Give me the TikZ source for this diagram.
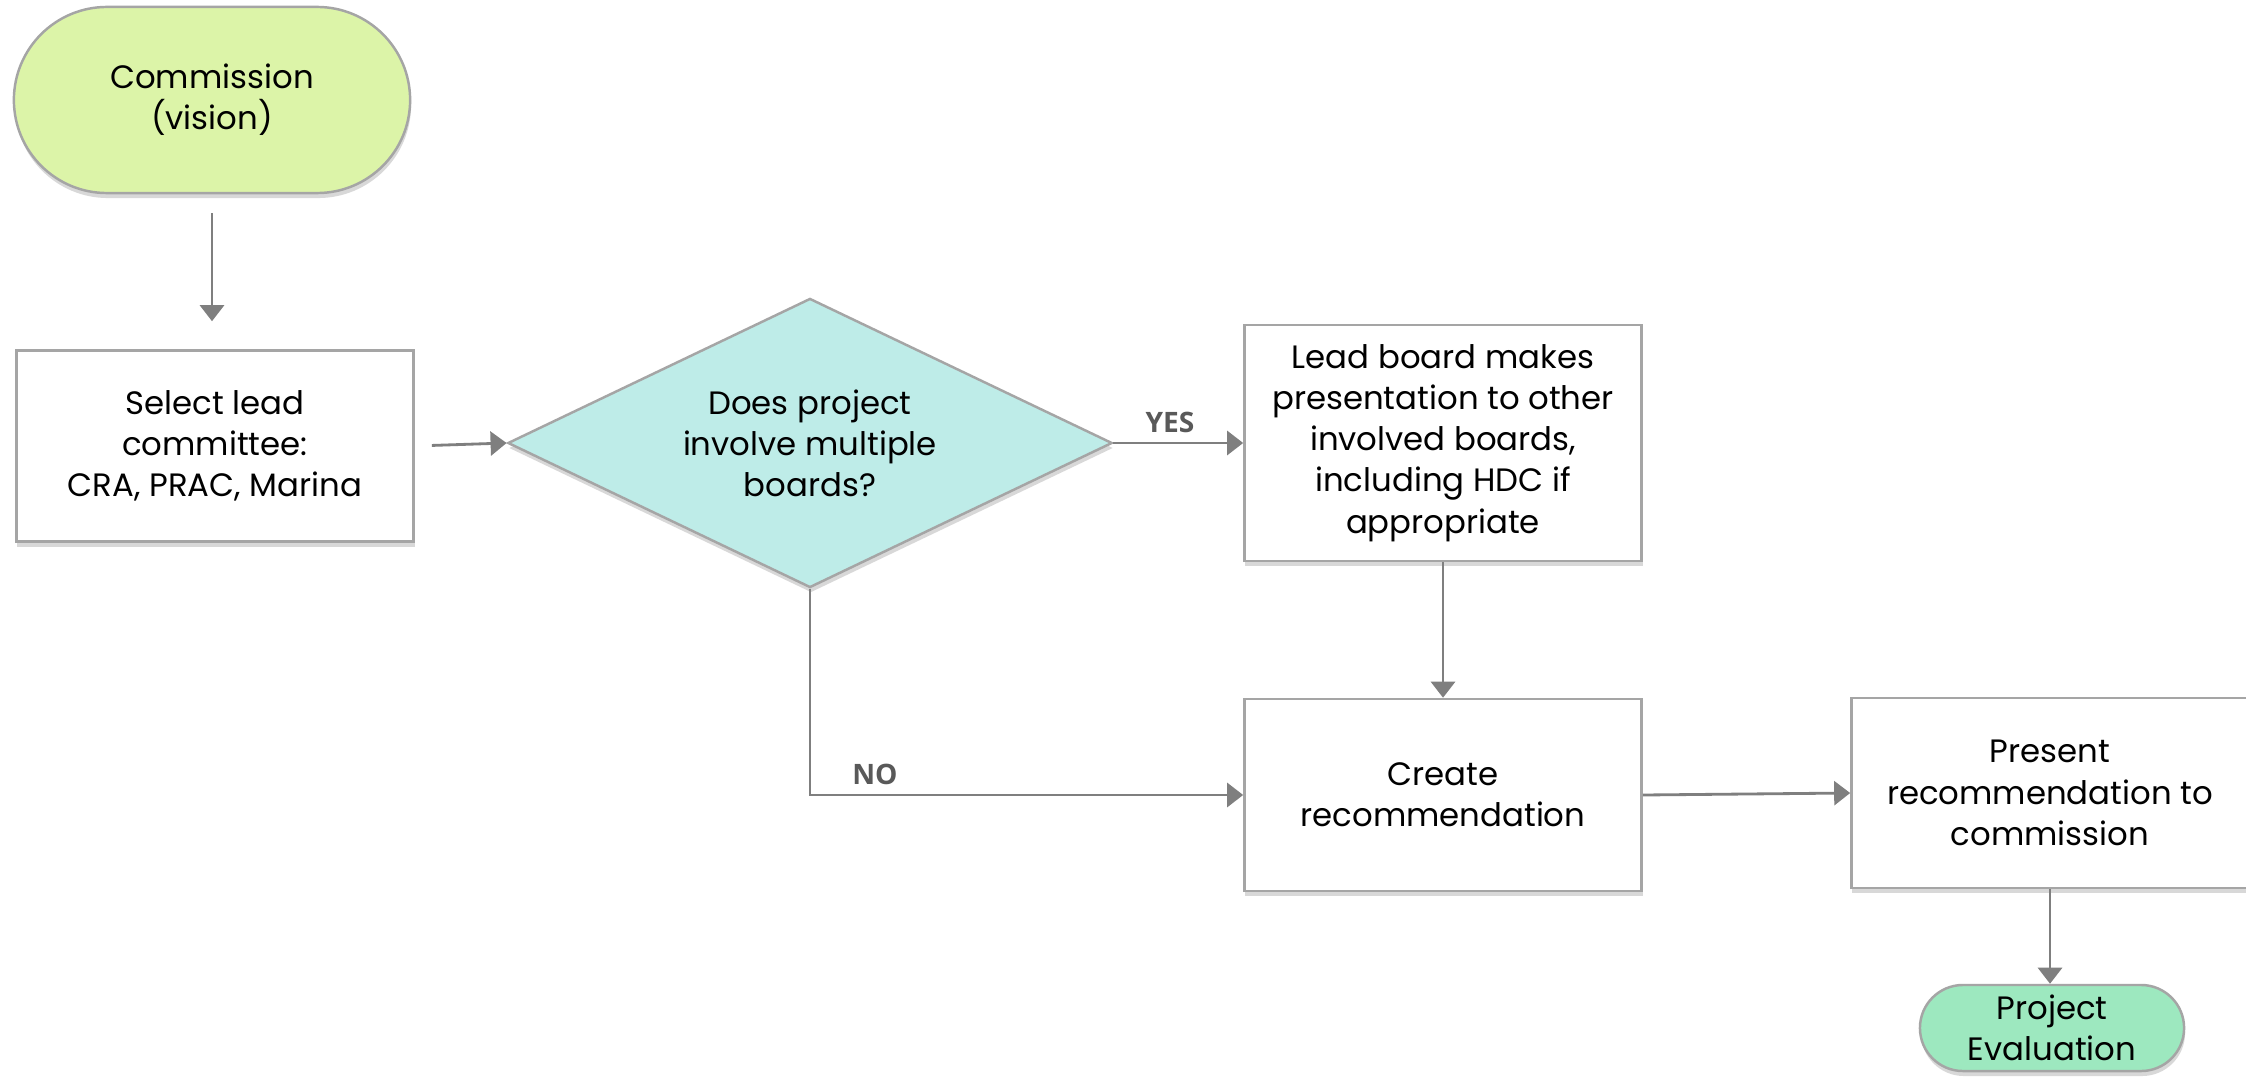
\documentclass[tikz,border=0pt]{standalone}
\usepackage{fontspec}
\setmainfont{Poppins}
\newfontfamily\labelfont{Open Sans}
\usetikzlibrary{shapes.geometric,shapes.misc,arrows.meta,shadows}

\definecolor{startgreen}{HTML}{DCF4A8}
\definecolor{endgreen}{HTML}{9DE8BF}
\definecolor{decteal}{HTML}{BEECE8}
\definecolor{edgegray}{HTML}{A5A5A5}
\definecolor{arrowgray}{HTML}{7F7F7F}
\definecolor{labelgray}{HTML}{595959}

\tikzset{
  base/.style={draw=edgegray, line width=0.7pt, align=center, inner sep=0pt,
    font=\fontsize{9.2}{11.7}\selectfont,
    drop shadow={shadow xshift=0.01cm, shadow yshift=-0.05cm, opacity=0.3}},
  stepbox/.style={base, rectangle, fill=white, minimum width=3.97cm},
  terminal/.style={base, rounded rectangle},
  decision/.style={base, diamond, fill=decteal, aspect=2.1},
  arr/.style={draw=arrowgray, line width=0.8pt,
    -{Triangle[length=0.16cm, width=0.24cm]}},
  lbl/.style={font=\labelfont\bfseries\fontsize{8}{9}\selectfont,
    text=labelgray, inner sep=2.5pt}
}

\begin{document}
\begin{tikzpicture}[x=0.01cm, y=-0.01cm]
  % page (pixel grid, y downwards)
  \useasboundingbox[fill=white] (0,0) rectangle (2246,1079);

  % start / end
  \node[terminal, fill=startgreen, minimum width=3.96cm, minimum height=1.86cm]
    (comm) at (212,100) {Commission\\(vision)};
  \node[terminal, fill=endgreen, minimum width=2.64cm, minimum height=0.86cm]
    (eval) at (2052,1028) {Project\\Evaluation};

  % steps
  \node[stepbox, minimum height=1.91cm] (sel) at (215,446)
    {Select lead\\committee:\\CRA, PRAC, Marina};
  \node[stepbox, minimum height=2.36cm] (lead) at (1443,443)
    {Lead board makes\\presentation to other\\involved boards,\\including HDC if\\appropriate};
  \node[stepbox, minimum height=1.92cm] (create) at (1443,795)
    {Create\\recommendation};
  \node[stepbox, minimum height=1.90cm] (pres) at (2050,793)
    {Present\\recommendation to\\commission};

  % decision
  \node[decision, minimum width=6.04cm, minimum height=2.89cm] (dia) at (810,443)
    {Does project\\involve multiple\\boards?};

  % connectors
  \draw[arr, shorten <=0.19cm, shorten >=0.28cm] (comm.south) -- (comm.south |- sel.north);
  \draw[arr, shorten <=0.17cm] (sel.east) -- (dia.west);
  \draw[arr] (dia.east) -- node[lbl, above, pos=0.436] {YES} (lead.west);
  \draw[arr] (dia.south) |- node[lbl, above, pos=0.575] {NO} (create.west);
  \draw[arr] (lead.south) -- (create.north);
  \draw[arr] (create.east) -- (pres.west);
  \draw[arr] (pres.south) -- (pres.south |- eval.north);
\end{tikzpicture}
\end{document}
